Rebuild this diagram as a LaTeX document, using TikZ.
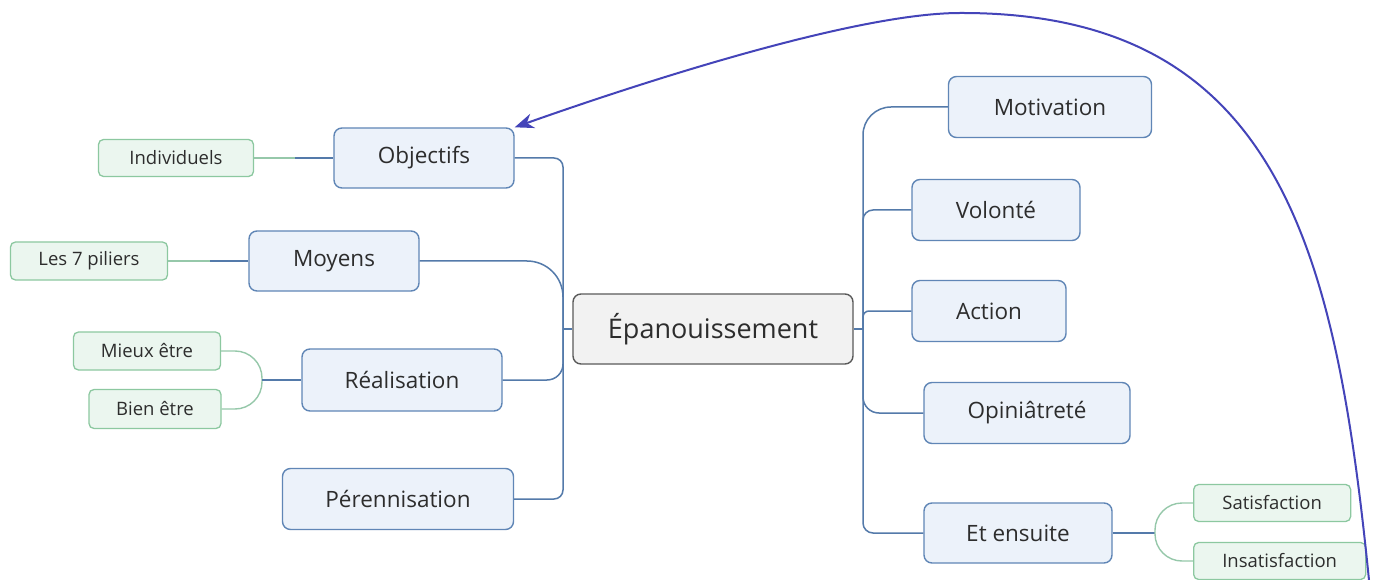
\documentclass[tikz,border=0pt]{standalone}
\usepackage{fontspec}
\setmainfont{Open Sans}
\usetikzlibrary{arrows.meta}
\definecolor{bfill}{RGB}{236,242,250}
\definecolor{bdraw}{RGB}{96,134,182}
\definecolor{gfill}{RGB}{235,246,239}
\definecolor{gdraw}{RGB}{140,200,160}
\definecolor{cfill}{RGB}{242,242,242}
\definecolor{cdraw}{RGB}{90,90,90}
\definecolor{conncol}{RGB}{84,122,170}
\definecolor{gconncol}{RGB}{150,200,170}
\definecolor{arrcol}{RGB}{68,68,185}
\definecolor{txt}{RGB}{45,45,45}
\tikzset{
  mainbox/.style={draw=bdraw, fill=bfill, line width=1.4pt, rounded corners=8pt, inner sep=0pt, text=txt, font=\fontsize{22.5}{26}\selectfont},
  greenbox/.style={draw=gdraw, fill=gfill, line width=1.3pt, rounded corners=5pt, inner sep=0pt, text=txt, font=\fontsize{18.5}{22}\selectfont},
  centerbox/.style={draw=cdraw, fill=cfill, line width=1.4pt, rounded corners=8pt, inner sep=0pt, text=txt, font=\fontsize{27}{31}\selectfont},
  conn/.style={draw=conncol, line width=1.5pt},
  gconn/.style={draw=gconncol, line width=1.4pt},
  backarrow/.style={draw=arrcol, line width=2pt, -{Stealth[length=19pt,width=15pt]}},
}
\begin{document}
\begin{tikzpicture}[x=1pt,y=-1pt]
\useasboundingbox (0,0) rectangle (1379,580);
\fill[white] (0,0) rectangle (1379,580);

% central node
\node[centerbox, minimum width=280pt, minimum height=70pt] (epa) at (713,329) {Épanouissement};

% left branches
\node[mainbox, minimum width=180pt, minimum height=60pt] (obj) at (424,158) {Objectifs};
\node[mainbox, minimum width=170pt, minimum height=60pt] (moy) at (334,261) {Moyens};
\node[mainbox, minimum width=200pt, minimum height=62pt] (rea) at (402,380) {Réalisation};
\node[mainbox, minimum width=231pt, minimum height=61pt] (per) at (398,499) {Pérennisation};

\node[greenbox, minimum width=155pt, minimum height=37pt] (ind) at (176,158) {Individuels};
\node[greenbox, minimum width=157pt, minimum height=38pt] (pil) at (89,261) {Les 7 piliers};
\node[greenbox, minimum width=147pt, minimum height=38pt] (mie) at (147,351) {Mieux être};
\node[greenbox, minimum width=132pt, minimum height=39pt] (bie) at (155,409) {Bien être};

% right branches
\node[mainbox, minimum width=203pt, minimum height=61pt] (mot) at (1050,107) {Motivation};
\node[mainbox, minimum width=168pt, minimum height=61pt] (vol) at (996,210) {Volonté};
\node[mainbox, minimum width=154pt, minimum height=61pt] (act) at (989,311) {Action};
\node[mainbox, minimum width=206pt, minimum height=61pt] (opi) at (1027,413) {Opiniâtreté};
\node[mainbox, minimum width=188pt, minimum height=60pt] (ens) at (1018,533) {Et ensuite};

\node[greenbox, anchor=west, minimum width=157pt, minimum height=37pt] (sat) at (1193,503) {Satisfaction};
\node[greenbox, anchor=west, minimum width=172pt, minimum height=37pt] (ins) at (1193,561) {Insatisfaction};

% junction coordinates
\coordinate (L) at (563,329);
\coordinate (R) at (863,329);
\coordinate (jind) at (295,158);
\coordinate (jpil) at (210,261);
\coordinate (jrea) at (262,380);
\coordinate (jens) at (1155,533);

% left trunk
\draw[conn] (epa.west) -- (L);
\draw[conn, rounded corners=9pt] (obj.east) -| (L);
\draw[conn, rounded corners=36pt] (moy.east) -| (L);
\draw[conn, rounded corners=16pt] (rea.east) -| (L);
\draw[conn, rounded corners=9pt] (per.east) -| (L);

% right trunk
\draw[conn] (epa.east) -- (R);
\draw[conn, rounded corners=28pt] (mot.west) -| (R);
\draw[conn, rounded corners=10pt] (vol.west) -| (R);
\draw[conn, rounded corners=6pt] (act.west) -| (R);
\draw[conn, rounded corners=16pt] (opi.west) -| (R);
\draw[conn, rounded corners=10pt] (ens.west) -| (R);

% sub-branches
\draw[gconn] (ind.east) -- (jind);
\draw[conn] (jind) -- (obj.west);
\draw[gconn] (pil.east) -- (jpil);
\draw[conn] (jpil) -- (moy.west);
\draw[gconn, rounded corners=27pt] (mie.east) -| (jrea |- bie.east) -- (bie.east);
\draw[conn] (jrea) -- (rea.west);
\draw[conn] (ens.east) -- (jens);
\draw[gconn, rounded corners=27pt] (sat.west) -| (jens |- ins.west) -- (ins.west);

% feedback arrow
\coordinate (top) at (960,13);
\draw[backarrow] ([xshift=3pt,yshift=-3pt]ins.south east) .. controls (1336,250) and (1280,12) .. (top)
  .. controls (850,13) and (620,90) .. (obj.north east);
\end{tikzpicture}
\end{document}
